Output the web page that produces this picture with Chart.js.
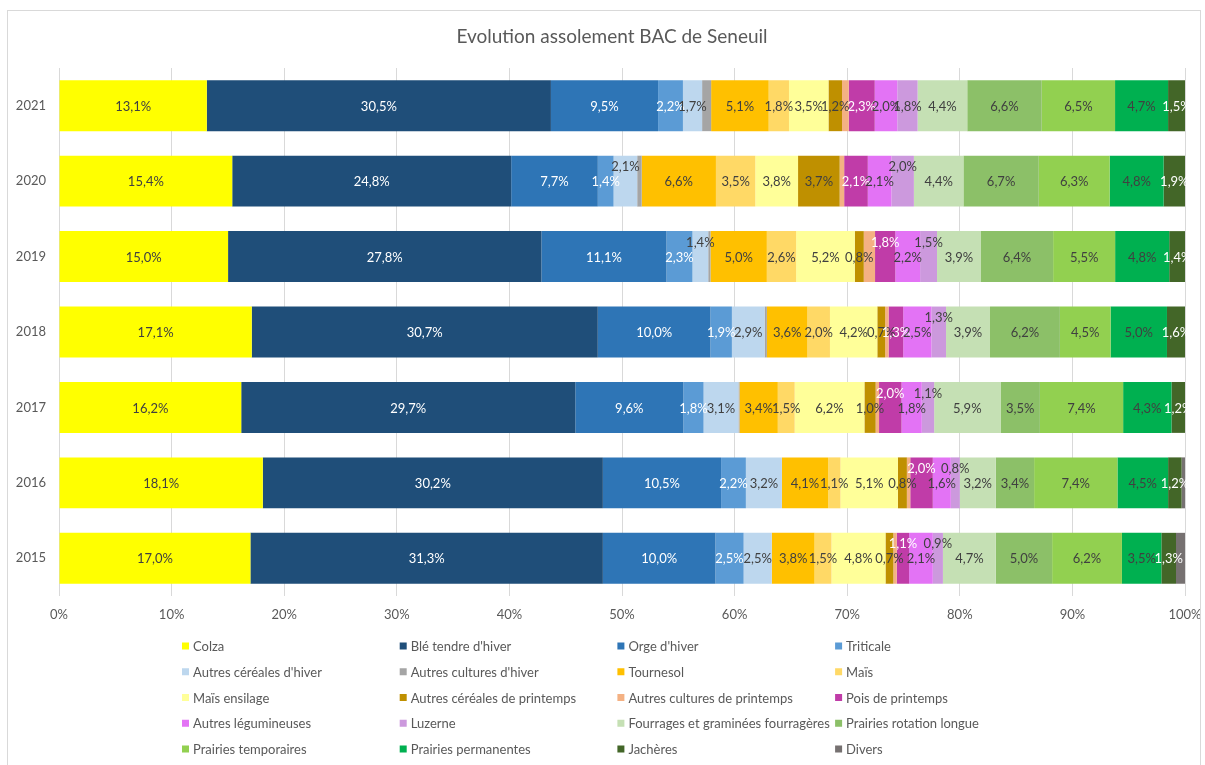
<!DOCTYPE html>
<html>
<head>
<meta charset="utf-8">
<script src="https://cdn.jsdelivr.net/npm/chart.js@4"></script>
<style>
  body { margin: 0; background: #fff; }
  #wrap { position: absolute; left: 0; top: 0; width: 1205px; height: 765px; }
  #frame { position: absolute; left: 7px; top: 10px; width: 1192px; height: 760px; border: 1px solid #d9d9d9; pointer-events: none; }
</style>
</head>
<body>
<div id="wrap"><canvas id="chart" width="1205" height="765"></canvas></div>
<div id="frame"></div>
<script>
const years = ["2021", "2020", "2019", "2018", "2017", "2016", "2015"];

const names = ["Colza", "Blé tendre d'hiver", "Orge d'hiver", "Triticale", "Autres céréales d'hiver",
  "Autres cultures d'hiver", "Tournesol", "Maïs", "Maïs ensilage", "Autres céréales de printemps",
  "Autres cultures de printemps", "Pois de printemps", "Autres légumineuses", "Luzerne",
  "Fourrages et graminées fourragères", "Prairies rotation longue", "Prairies temporaires",
  "Prairies permanentes", "Jachères", "Divers"];

// values in %, one entry per year (2021 -> 2015)
const colza = [13.1, 15.4, 15.0, 17.1, 16.2, 18.1, 17.0];
const ble = [30.5, 24.8, 27.8, 30.7, 29.7, 30.2, 31.3];
const orge = [9.5, 7.7, 11.1, 10.0, 9.6, 10.5, 10.0];
const triticale = [2.2, 1.4, 2.3, 1.9, 1.8, 2.2, 2.5];
const autresCerHiver = [1.7, 2.1, 1.4, 2.9, 3.1, 3.2, 2.5];
const autresCultHiver = [0.8, 0.4, 0.2, 0.2, 0.1, 0, 0];
const tournesol = [5.1, 6.6, 5.0, 3.6, 3.4, 4.1, 3.8];
const mais = [1.8, 3.5, 2.6, 2.0, 1.5, 1.1, 1.5];
const maisEnsilage = [3.5, 3.8, 5.2, 4.2, 6.2, 5.1, 4.8];
const autresCerPrint = [1.2, 3.7, 0.8, 0.7, 1.0, 0.8, 0.7];
const autresCultPrint = [0.6, 0.4, 1.0, 0.3, 0.3, 0.3, 0.3];
const pois = [2.3, 2.1, 1.8, 1.3, 2.0, 2.0, 1.1];
const legumineuses = [2.0, 2.1, 2.2, 2.5, 1.8, 1.6, 2.1];
const luzerne = [1.8, 2.0, 1.5, 1.3, 1.1, 0.8, 0.9];
const fourrages = [4.4, 4.4, 3.9, 3.9, 5.9, 3.2, 4.7];
const prairiesRotation = [6.6, 6.7, 6.4, 6.2, 3.5, 3.4, 5.0];
const prairiesTemp = [6.5, 6.3, 5.5, 4.5, 7.4, 7.4, 6.2];
const prairiesPerm = [4.7, 4.8, 4.8, 5.0, 4.3, 4.5, 3.5];
const jacheres = [1.5, 1.9, 1.4, 1.6, 1.2, 1.2, 1.3];
const divers = [0, 0, 0, 0, 0, 0.3, 0.8];

const xTicks = [0, 10, 20, 30, 40, 50, 60, 70, 80, 90, 100];

const series = [colza, ble, orge, triticale, autresCerHiver, autresCultHiver, tournesol, mais,
  maisEnsilage, autresCerPrint, autresCultPrint, pois, legumineuses, luzerne, fourrages,
  prairiesRotation, prairiesTemp, prairiesPerm, jacheres, divers];

const colors = ["#ffff00", "#1f4e79", "#2e75b6", "#5b9bd5", "#bdd7ee", "#a5a5a5", "#ffc000", "#ffd966",
  "#ffff99", "#bf9000", "#f4b183", "#c03ca8", "#e373f5", "#cc99dd", "#c5e0b4", "#8cc068",
  "#92d050", "#00b050", "#436628", "#767171"];

const whiteLabels = [1, 2, 3, 11, 18];
const noLabels = [5, 10, 19];
// labels moved up in the original (year index -> series index)
const raised = { 1: [4, 13], 2: [4, 11, 13], 3: [13], 4: [11, 13], 5: [11, 13], 6: [11, 13] };

const totals = years.map((y, i) => series.reduce((s, arr) => s + arr[i], 0));

const font = "Lato, 'Open Sans', sans-serif";
const grey = "#595959";
const title = "Evolution assolement BAC de Seneuil";

const datasets = series.map((arr, k) => ({
  label: names[k],
  data: arr.map((v, i) => v / totals[i] * 100),
  raw: arr,
  backgroundColor: colors[k],
  borderWidth: 0,
  categoryPercentage: 0.675,
  barPercentage: 1,
}));

const barLabels = {
  id: "barLabels",
  afterDatasetsDraw(chart) {
    const ctx = chart.ctx;
    ctx.save();
    ctx.font = "13px " + font;
    ctx.textAlign = "center";
    ctx.textBaseline = "middle";
    chart.data.datasets.forEach((ds, k) => {
      if (noLabels.includes(k)) return;
      const meta = chart.getDatasetMeta(k);
      meta.data.forEach((bar, i) => {
        const v = ds.raw[i];
        if (!v) return;
        const p = bar.getProps(["x", "y", "base"], true);
        let y = p.y;
        if (raised[i] && raised[i].includes(k)) y -= 15;
        ctx.fillStyle = whiteLabels.includes(k) ? "#ffffff" : "#404040";
        ctx.fillText(v.toFixed(1).replace(".", ",") + "%", (p.x + p.base) / 2, y + 1);
      });
    });
    ctx.restore();
  },
};

const gridLegend = {
  id: "gridLegend",
  afterDraw(chart) {
    const ctx = chart.ctx;
    ctx.save();
    ctx.textBaseline = "middle";
    ctx.fillStyle = grey;
    ctx.font = "19px " + font;
    ctx.textAlign = "center";
    ctx.fillText(title, 612, 37);
    ctx.textAlign = "left";
    ctx.font = "13px " + font;
    chart.data.datasets.forEach((ds, k) => {
      const x = 182 + (k % 4) * 217.7;
      const y = 646 + Math.floor(k / 4) * 25.75;
      ctx.fillStyle = ds.backgroundColor;
      ctx.fillRect(x, y - 3.5, 7, 7);
      ctx.fillStyle = grey;
      ctx.fillText(ds.label, x + 11, y + 1);
    });
    ctx.restore();
  },
};

new Chart(document.getElementById("chart"), {
  type: "bar",
  data: { labels: years, datasets },
  plugins: [barLabels, gridLegend],
  options: {
    indexAxis: "y",
    responsive: false,
    animation: false,
    layout: { padding: { left: 0, right: 20, top: 68, bottom: 139 } },
    plugins: {
      legend: { display: false },
      tooltip: { enabled: false },
      title: { display: false },
    },
    scales: {
      x: {
        stacked: true,
        min: 0,
        max: 100,
        afterFit(scale) {
          scale.height = 30;
          scale.paddingLeft = 0;
          scale.paddingRight = 0;
        },
        afterBuildTicks(scale) { scale.ticks = xTicks.map((v) => ({ value: v })); },
        border: { display: false },
        grid: { color: "#d9d9d9", drawTicks: false },
        ticks: {
          padding: 11,
          color: grey,
          font: { family: font, size: 13 },
          callback: (v) => v + "%",
        },
      },
      y: {
        stacked: true,
        afterFit(scale) { scale.width = 59; },
        border: { display: false },
        grid: { display: false, drawTicks: false },
        ticks: { padding: 13, color: grey, font: { family: font, size: 13 } },
      },
    },
  },
});
</script>
</body>
</html>
